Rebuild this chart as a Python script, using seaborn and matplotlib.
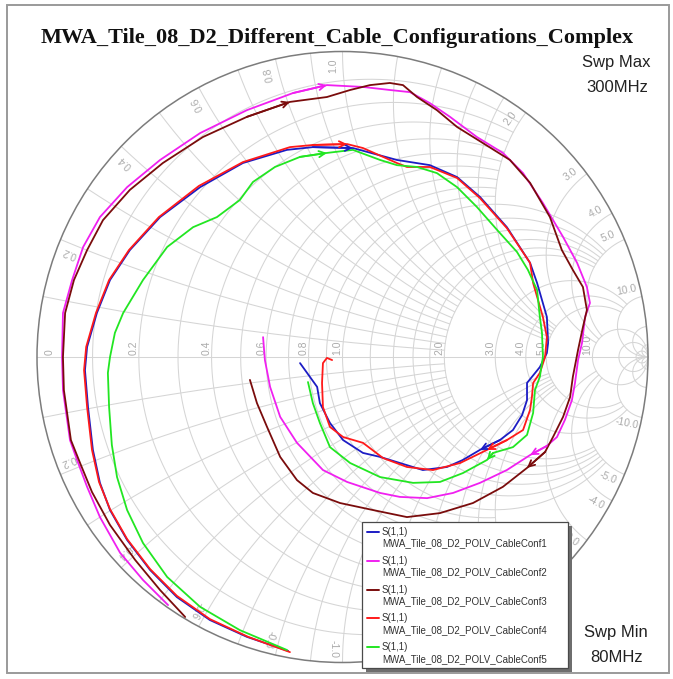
import numpy as np
import pandas as pd
import matplotlib
matplotlib.use("Agg")
import matplotlib.pyplot as plt
import seaborn as sns
from matplotlib.patches import Rectangle, Circle
from matplotlib.lines import Line2D

sns.set_theme(style="white")
plt.rcParams['font.family'] = ['Liberation Sans', 'DejaVu Sans']

TITLE = "MWA_Tile_08_D2_Different_Cable_Configurations_Complex"
trace_names = ["MWA_Tile_08_D2_POLV_CableConf1", "MWA_Tile_08_D2_POLV_CableConf2",
               "MWA_Tile_08_D2_POLV_CableConf3", "MWA_Tile_08_D2_POLV_CableConf4",
               "MWA_Tile_08_D2_POLV_CableConf5"]
trace_colors = ["#1c1cc4", "#f020f0", "#7a0c0c", "#ff1a1a", "#22e622"]
sweep_max = "300MHz"
sweep_min = "80MHz"

# S11 reflection coefficient, 80 MHz -> 300 MHz (real / imaginary parts)
conf1_re = [-0.178, -0.313, -0.434, -0.542, -0.630, -0.705, -0.761, -0.794, -0.817, -0.833,
            -0.843, -0.836, -0.804, -0.761, -0.696, -0.597, -0.466, -0.326, -0.182, -0.097,
            0.034, 0.178, 0.286, 0.375, 0.450, 0.538, 0.614, 0.637, 0.669, 0.673,
            0.669, 0.646, 0.604, 0.604, 0.588, 0.558, 0.515, 0.450, 0.394, 0.342,
            0.263, 0.188, 0.123, 0.067, 0.002, -0.041, -0.074, -0.083, -0.116, -0.139]
conf1_im = [-0.962, -0.916, -0.861, -0.786, -0.697, -0.599, -0.501, -0.412, -0.304, -0.164,
            -0.043, 0.033, 0.144, 0.252, 0.350, 0.458, 0.556, 0.635, 0.678, 0.687,
            0.684, 0.645, 0.628, 0.589, 0.524, 0.425, 0.308, 0.242, 0.131, 0.046,
            0.013, -0.033, -0.085, -0.141, -0.190, -0.239, -0.272, -0.304, -0.337, -0.360,
            -0.370, -0.347, -0.327, -0.314, -0.272, -0.216, -0.151, -0.098, -0.052, -0.020]

conf2_re = [-0.571, -0.653, -0.728, -0.794, -0.836, -0.869, -0.892, -0.915, -0.918, -0.915,
            -0.885, -0.849, -0.794, -0.705, -0.597, -0.466, -0.313, -0.162, -0.051, 0.067,
            0.155, 0.221, 0.286, 0.352, 0.440, 0.525, 0.591, 0.656, 0.722, 0.768,
            0.800, 0.810, 0.794, 0.784, 0.771, 0.761, 0.751, 0.728, 0.702, 0.669,
            0.614, 0.538, 0.450, 0.362, 0.277, 0.188, 0.123, 0.015, -0.064, -0.149,
            -0.204, -0.237, -0.254, -0.260]
conf2_im = [-0.812, -0.730, -0.641, -0.524, -0.425, -0.337, -0.272, -0.108, 0.000, 0.144,
            0.252, 0.360, 0.458, 0.556, 0.645, 0.733, 0.808, 0.864, 0.890, 0.884,
            0.874, 0.867, 0.831, 0.786, 0.720, 0.668, 0.602, 0.504, 0.393, 0.308,
            0.229, 0.177, 0.131, 0.046, -0.010, -0.085, -0.141, -0.206, -0.262, -0.291,
            -0.321, -0.370, -0.412, -0.445, -0.462, -0.458, -0.445, -0.409, -0.370, -0.281,
            -0.196, -0.098, -0.010, 0.065]

conf3_re = [-0.515, -0.597, -0.679, -0.761, -0.820, -0.859, -0.889, -0.912, -0.915, -0.908,
            -0.879, -0.836, -0.784, -0.696, -0.588, -0.457, -0.313, -0.172, -0.051, 0.025,
            0.090, 0.155, 0.198, 0.244, 0.309, 0.375, 0.460, 0.548, 0.614, 0.679,
            0.718, 0.754, 0.787, 0.800, 0.787, 0.771, 0.754, 0.745, 0.722, 0.689,
            0.663, 0.604, 0.525, 0.427, 0.319, 0.211, 0.100, -0.008, -0.097, -0.149,
            -0.204, -0.247, -0.280, -0.303]
conf3_im = [-0.851, -0.763, -0.664, -0.550, -0.442, -0.347, -0.272, -0.108, 0.000, 0.144,
            0.252, 0.350, 0.448, 0.547, 0.635, 0.720, 0.786, 0.835, 0.851, 0.874,
            0.890, 0.897, 0.890, 0.851, 0.808, 0.753, 0.700, 0.645, 0.570, 0.458,
            0.350, 0.285, 0.229, 0.154, 0.098, 0.023, -0.065, -0.131, -0.196, -0.262,
            -0.311, -0.363, -0.425, -0.478, -0.511, -0.524, -0.501, -0.478, -0.445, -0.403,
            -0.327, -0.229, -0.151, -0.075]

conf4_re = [-0.172, -0.309, -0.434, -0.542, -0.630, -0.705, -0.761, -0.797, -0.820, -0.836,
            -0.846, -0.839, -0.807, -0.764, -0.699, -0.601, -0.470, -0.326, -0.172, -0.097,
            0.015, 0.067, 0.178, 0.211, 0.286, 0.375, 0.450, 0.538, 0.614, 0.624,
            0.656, 0.669, 0.663, 0.646, 0.624, 0.620, 0.614, 0.591, 0.538, 0.473,
            0.385, 0.296, 0.211, 0.133, 0.067, 0.002, -0.041, -0.064, -0.067, -0.064,
            -0.051, -0.034]
conf4_im = [-0.966, -0.916, -0.858, -0.782, -0.694, -0.596, -0.498, -0.409, -0.304, -0.164,
            -0.043, 0.033, 0.144, 0.252, 0.350, 0.458, 0.560, 0.638, 0.687, 0.694,
            0.697, 0.684, 0.635, 0.622, 0.622, 0.586, 0.520, 0.422, 0.308, 0.242,
            0.131, 0.065, 0.000, -0.052, -0.085, -0.131, -0.173, -0.239, -0.272, -0.304,
            -0.347, -0.370, -0.360, -0.331, -0.281, -0.262, -0.229, -0.164, -0.085, -0.020,
            -0.003, -0.010]

conf5_re = [-0.182, -0.336, -0.466, -0.574, -0.653, -0.705, -0.738, -0.755, -0.764, -0.768,
            -0.761, -0.745, -0.718, -0.653, -0.574, -0.489, -0.411, -0.336, -0.293, -0.221,
            -0.139, -0.051, 0.034, 0.123, 0.178, 0.244, 0.309, 0.375, 0.440, 0.506,
            0.571, 0.607, 0.637, 0.646, 0.653, 0.656, 0.646, 0.630, 0.624, 0.604,
            0.558, 0.493, 0.473, 0.394, 0.319, 0.231, 0.123, 0.025, -0.041, -0.074,
            -0.097, -0.113]
conf5_im = [-0.959, -0.894, -0.818, -0.720, -0.609, -0.501, -0.393, -0.288, -0.164, -0.052,
            0.000, 0.079, 0.144, 0.252, 0.360, 0.425, 0.458, 0.514, 0.573, 0.622,
            0.655, 0.668, 0.678, 0.645, 0.628, 0.622, 0.602, 0.556, 0.491, 0.416,
            0.344, 0.285, 0.219, 0.131, 0.079, 0.000, -0.065, -0.108, -0.183, -0.255,
            -0.295, -0.314, -0.337, -0.380, -0.409, -0.412, -0.393, -0.347, -0.295, -0.216,
            -0.151, -0.082]

# sample indices that carry a direction arrow on each trace
arrow_at = [[20, 37], [18, 40], [17, 41], [20, 39], [21, 42]]

# Smith chart grid definition
r_fine = [0.1, 0.2, 0.3, 0.4, 0.5, 0.6, 0.7, 0.8, 0.9, 1.0]
r_mid = [1.2, 1.4, 1.6, 1.8, 2.0]
r_coarse = [3.0, 4.0, 5.0]
r_outer = [10.0, 20.0, 50.0]
r_labels = [0.0, 0.2, 0.4, 0.6, 0.8, 1.0, 2.0, 3.0, 4.0, 5.0, 10.0]
x_labels = [0.2, 0.4, 0.6, 0.8, 1.0, 2.0, 3.0, 4.0, 5.0, 10.0]

W, H = 673, 679
CX, CY, RAD = 342.5, 357.0, 305.5

fig = plt.figure(figsize=(W / 100, H / 100), dpi=100)
ax = fig.add_axes([0, 0, 1, 1])
ax.set_xlim(-CX / RAD, (W - CX) / RAD)
ax.set_ylim(-(H - CY) / RAD, CY / RAD)
ax.axis("off")


def gamma(z):
    return (z - 1) / (z + 1)


GRID = dict(color="#d5d5d5", lw=0.75, zorder=1)


def r_circle(r, xmax):
    t = np.linspace(-np.arctan(xmax), np.arctan(xmax), 500)
    g = gamma(r + 1j * np.tan(t))
    ax.plot(g.real, g.imag, **GRID)


def x_arc(x, rmax):
    t = np.linspace(0, np.arctan(rmax), 400)
    for s in (1, -1):
        g = gamma(np.tan(t) + 1j * s * x)
        ax.plot(g.real, g.imag, **GRID)


for r in r_fine:
    r_circle(r, 2.0 if r < 1 else 5.0)
for r in r_mid:
    r_circle(r, 5.0)
for r in r_coarse:
    r_circle(r, 10.0)
for r in r_outer:
    r_circle(r, 1e4)
for x in r_fine:
    x_arc(x, 2.0 if x < 1 else 5.0)
for x in r_mid:
    x_arc(x, 5.0)
for x in r_coarse:
    x_arc(x, 10.0)
for x in r_outer:
    x_arc(x, 1e4)
ax.plot([-1, 1], [0, 0], **GRID)
ax.add_patch(Circle((0, 0), 1.0, fill=False, ec="#7c7c7c", lw=1.1, zorder=2))

LBL = dict(color="#ababab", fontsize=7.5, ha="center", va="center", zorder=2)
for r in r_labels:
    g = (r - 1) / (r + 1)
    dx = 13 / RAD if r == 0 else -5 / RAD
    ax.text(g + dx, 0.005, f"{r:.1f}" if r > 0 else "0", rotation=90,
            ha="center", va="bottom", color="#ababab", fontsize=7.5, zorder=2)
for xv in x_labels:
    for s in (1, -1):
        g = gamma(1j * s * xv)
        th = np.degrees(np.angle(g))
        a = np.radians(th + 1.8 * s)
        ax.text(0.955 * np.cos(a), 0.955 * np.sin(a), f"{s * xv:.1f}", rotation=th,
                rotation_mode="anchor", **LBL)

# traces
res = [conf1_re, conf2_re, conf3_re, conf4_re, conf5_re]
ims = [conf1_im, conf2_im, conf3_im, conf4_im, conf5_im]
frames = []
for name, re_, im_ in zip(trace_names, res, ims):
    frames.append(pd.DataFrame({"re": re_, "im": im_, "trace": name,
                                "step": np.arange(len(re_))}))
df = pd.concat(frames, ignore_index=True)
sns.lineplot(data=df, x="re", y="im", hue="trace", palette=dict(zip(trace_names, trace_colors)),
             sort=False, estimator=None, lw=1.3, legend=False, ax=ax, zorder=5)
ax.set_xlim(-CX / RAD, (W - CX) / RAD)
ax.set_ylim(-(H - CY) / RAD, CY / RAD)

for re_, im_, col, idxs in zip(res, ims, trace_colors, arrow_at):
    for i in idxs:
        ax.annotate("", xy=(re_[i], im_[i]), xytext=(re_[i - 1], im_[i - 1]),
                    arrowprops=dict(arrowstyle="->", color=col, lw=1.3, mutation_scale=11,
                                    shrinkA=0, shrinkB=0), zorder=6)


def fx(x):
    return x / W


def fy(y):
    return 1 - y / H


# outer frame
fig.add_artist(Rectangle((fx(7), fy(673)), fx(669) - fx(7), fy(5) - fy(673),
                         transform=fig.transFigure, fill=False, ec="#9a9a9a", lw=1.4))

fig.text(fx(337), fy(38), TITLE, ha="center", va="center", fontsize=16,
         fontweight="bold", family=["Liberation Serif", "DejaVu Serif"], color="#111111")
fig.text(fx(616), fy(63), "Swp Max", ha="center", va="center", fontsize=12, color="#222222")
fig.text(fx(617), fy(87), sweep_max, ha="center", va="center", fontsize=12, color="#222222")
fig.text(fx(616), fy(633), "Swp Min", ha="center", va="center", fontsize=12, color="#222222")
fig.text(fx(617), fy(657), sweep_min, ha="center", va="center", fontsize=12, color="#222222")

# legend box with drop shadow
fig.add_artist(Rectangle((fx(366), fy(672)), fx(572) - fx(366), fy(526) - fy(672),
                         transform=fig.transFigure, fc="#6e6e6e", ec="none", zorder=8))
fig.add_artist(Rectangle((fx(362), fy(668)), fx(568) - fx(362), fy(522) - fy(668),
                         transform=fig.transFigure, fc="white", ec="#4a4a4a", lw=0.9, zorder=9))
for k, (name, col) in enumerate(zip(trace_names, trace_colors)):
    y0 = 532 + k * 28.8
    fig.add_artist(Line2D([fx(367), fx(379)], [fy(y0), fy(y0)], color=col, lw=1.4,
                          transform=fig.transFigure, zorder=10))
    fig.text(fx(382), fy(y0), "S(1,1)", ha="left", va="center", fontsize=7,
             color="#333333", zorder=10)
    fig.text(fx(382), fy(y0 + 11.5), name, ha="left", va="center", fontsize=7,
             color="#333333", zorder=10)

fig.savefig("out.png", dpi=100)
